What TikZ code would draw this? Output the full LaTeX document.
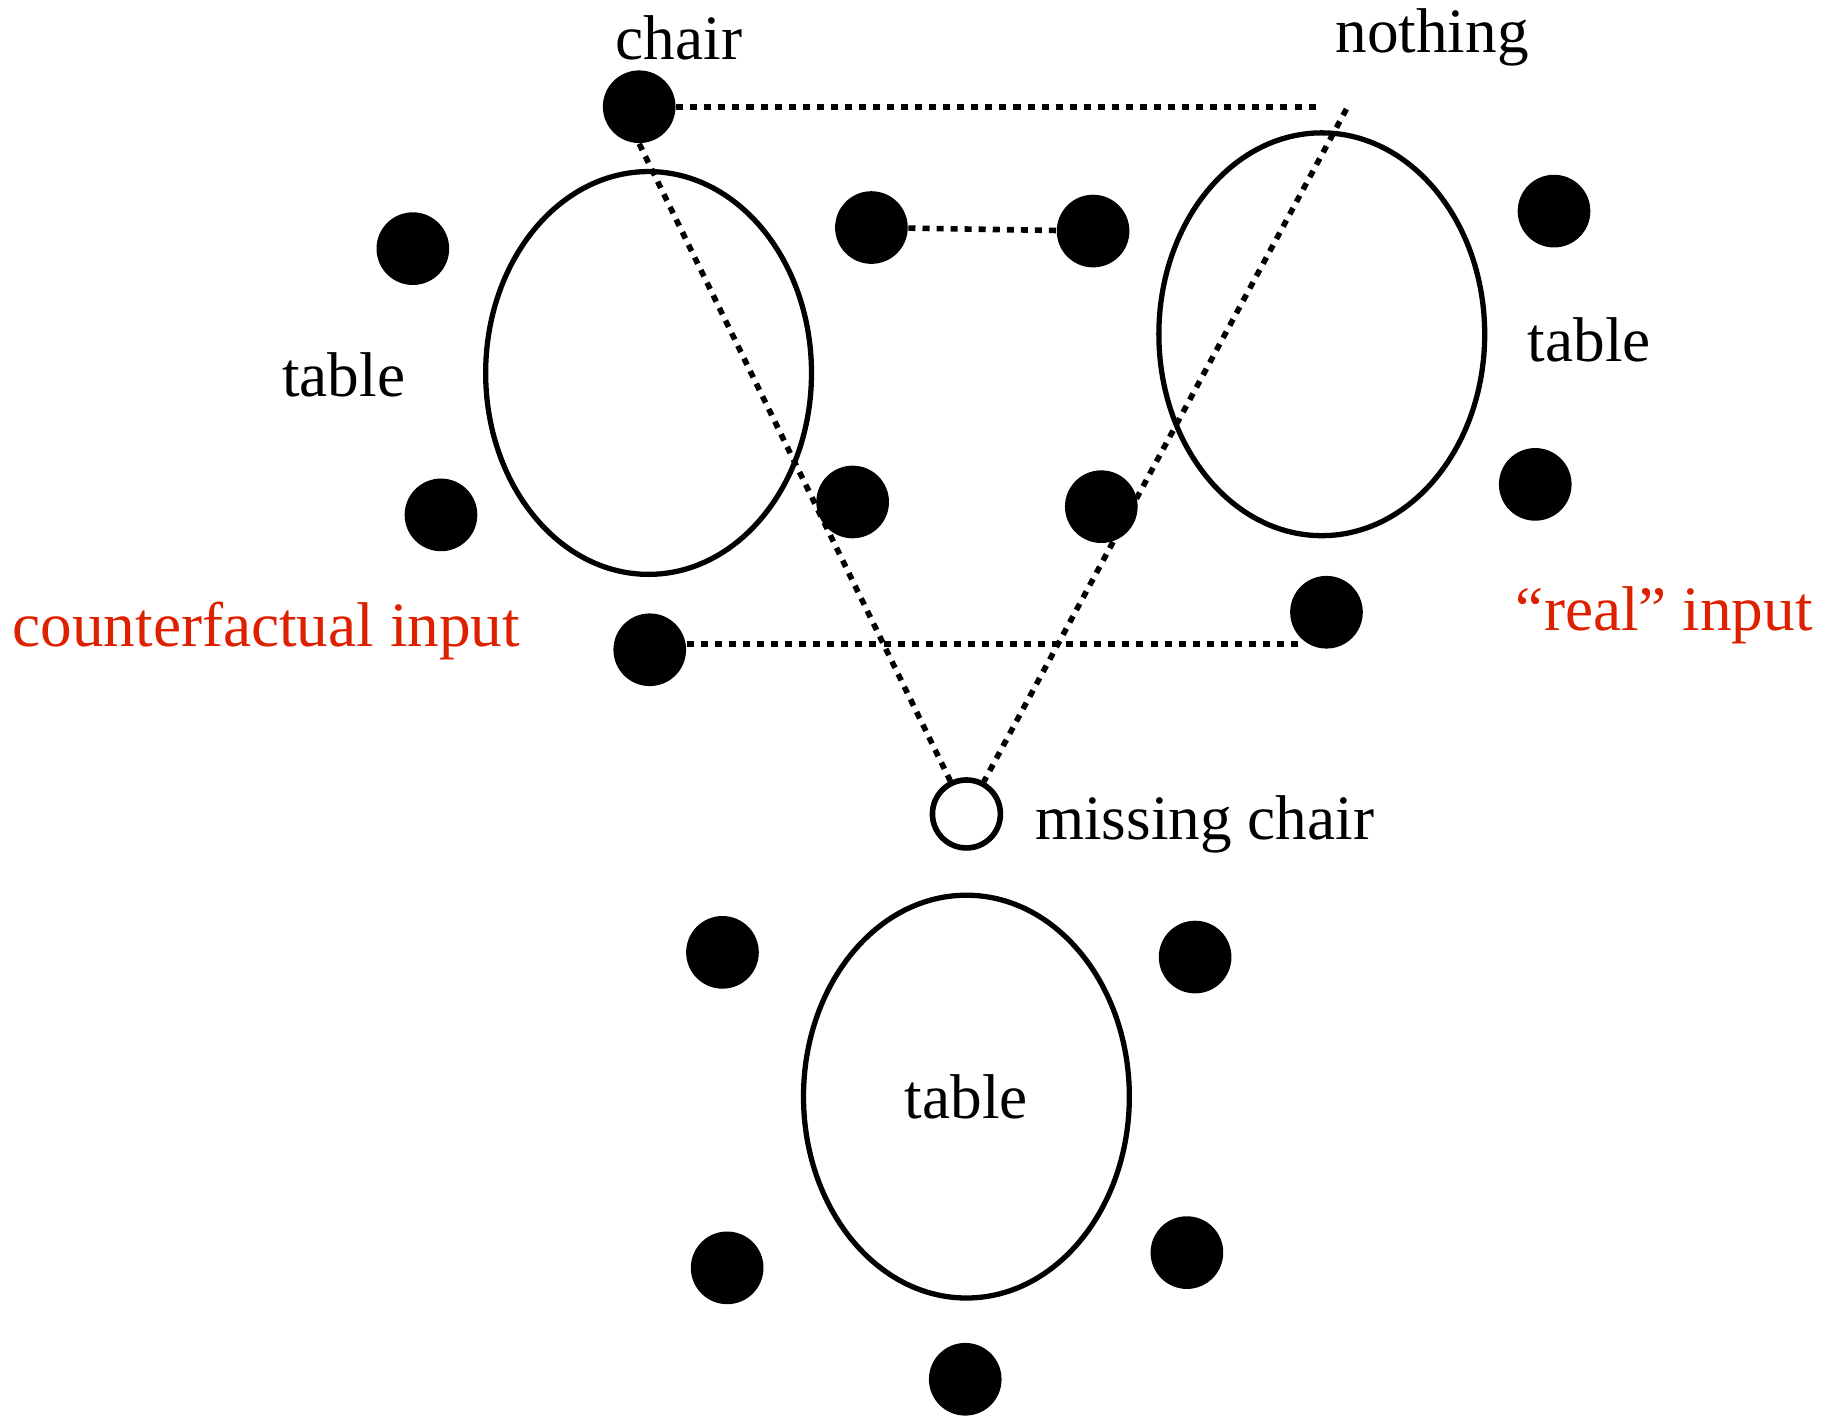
\documentclass[tikz,border=0pt]{standalone}
\usepackage{fontspec}
\setmainfont{Liberation Serif}
\usetikzlibrary{shapes.geometric}
\definecolor{inred}{RGB}{220,32,0}
\tikzset{
  dotnode/.style={circle, fill=black, inner sep=0pt, minimum size=0.727cm},
  opennode/.style={circle, draw=black, line width=1.6pt, fill=white, inner sep=0pt, minimum size=0.68cm},
  tablebox/.style={ellipse, draw=black, line width=1.5pt, inner sep=0pt, minimum width=3.26cm, minimum height=4.03cm},
  dotline/.style={line width=1.6pt, dash pattern=on 2pt off 2pt},
  lbl/.style={font=\fontsize{18}{21}\selectfont, inner sep=0pt},
  redlbl/.style={lbl, text=inred}
}
\begin{document}
\begin{tikzpicture}[x=0.011728cm, y=-0.011728cm]
\useasboundingbox (0,0) rectangle (1568,1212);
% tables
\node[tablebox] (tL) at (553,318) {};
\node[tablebox] (tR) at (1127,285) {};
\node[tablebox, lbl] (tB) at (824,935) {table};
% dots
\node[dotnode] (chairdot) at (545,91) {};
\node[dotnode] (d1) at (352,212) {};
\node[dotnode] (d2) at (376,439) {};
\node[dotnode] (d3) at (743,194) {};
\node[dotnode] (d4) at (932,197) {};
\node[dotnode] (d5) at (727,428) {};
\node[dotnode] (d6) at (939,432) {};
\node[dotnode] (d7) at (1325,180) {};
\node[dotnode] (d8) at (1309,413) {};
\node[dotnode] (d9) at (1131,522) {};
\node[dotnode] (d10) at (554,554) {};
\node[dotnode] (d11) at (616,812) {};
\node[dotnode] (d12) at (1019,816) {};
\node[dotnode] (d13) at (620,1081) {};
\node[dotnode] (d14) at (1012,1068) {};
\node[dotnode] (d15) at (823,1176) {};
\node[opennode] (missing) at (824,694) {};
% labels
\node[lbl] (lchair) at (579,32) {chair};
\node[lbl] (lnothing) at (1221,32) {nothing};
\node[lbl] (ltL) at (293,320) {table};
\node[lbl] (ltR) at (1355,290) {table};
\node[redlbl] (lcf) at (227,538) {counterfactual input};
\node[redlbl] (lreal) at (1419,525) {``real'' input};
\node[lbl, anchor=west] (lmiss) at (882,703) {missing chair};
% connectors
\coordinate (nothingA) at (1127,91);
\coordinate (nothingB) at (1148,93);
\draw[dotline] (chairdot) -- (nothingA);
\draw[dotline] (d3) -- (d4);
\draw[dotline] ([yshift=0.06cm]d10.east) -- ([yshift=0.06cm]d10.east -| d9.south west);
\draw[dotline] (chairdot.south) -- (missing);
\draw[dotline] (nothingB) -- (missing);
\end{tikzpicture}
\end{document}
